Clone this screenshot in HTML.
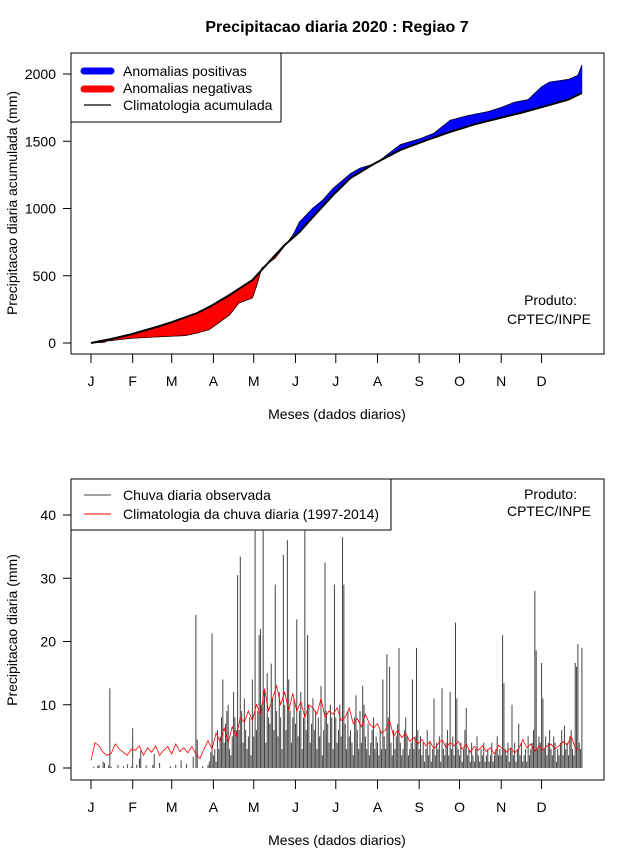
<!DOCTYPE html>
<html><head><meta charset="utf-8"><style>
html,body{margin:0;padding:0;background:#fff;}
svg{display:block;font-family:"Liberation Sans",sans-serif;}
</style></head><body>
<svg id="c" width="640" height="850" viewBox="0 0 640 850" xmlns="http://www.w3.org/2000/svg">
<text x="337" y="32" text-anchor="middle" font-size="16" font-weight="bold">Precipitacao diaria 2020 : Regiao 7</text>
<g id="top"></g>
<g id="bot"></g>
</svg>
<script>
// ---- data ----
const monthLabels = ["J","F","M","A","M","J","J","A","S","O","N","D"];
const monthStartDays = [0,31,60,91,121,152,182,213,244,274,305,335];
const topYTicks = [0,500,1000,1500,2000];
const botYTicks = [0,10,20,30,40];
const climCumDays = [0,15,30,49,60,79,90,103,120,137,144,155,165,180,193,210,230,250,267,285,304,320,341,355,365];
const climCumVals = [0,30,65,120,155,223,280,357,468,654,729,825,937,1100,1227,1330,1435,1510,1569,1625,1673,1712,1770,1810,1859];
const obsCumDays = [0,10,12,30,49,70,79,88,95,103,110,120,123,127,137,145,150,155,165,172,180,193,200,210,215,230,245,255,267,280,295,304,315,325,335,341,355,362,365];
const obsCumVals = [0,5,15,35,45,55,74,100,150,208,297,335,420,557,632,735,800,900,1004,1060,1150,1260,1300,1330,1360,1475,1520,1560,1656,1690,1720,1748,1790,1810,1905,1940,1960,1990,2067];
const obsDaily = [
0,0,0.2,0,0,0.3,0.5,0,0,1,0.8,0,0,0.4,12.6,0.2,0,0,0,0,0.5,0,0,0,0.3,0,0,0.6,0,0,0.2,
6.3,0,0,0.5,0,1.5,2.8,0,0,0,0.4,0,0,0,0,0.5,2.2,0,0,0,0.8,0,0,0,0,0,0,0,0.3,
0,0,0,0.5,0,0,0,1.2,0,0,0,0.6,0,0,0,0,1.8,0,24.2,4.5,0,0,0,0.3,0,0,0,0.5,1.0,2.5,21.3,
2,3,1,6,3,5,8,14,4,7,9,10,3,2,5,12,8,6,30.5,6,33.4,9,4,11,6,3,5,8,2,14,
5,37.5,6,9,21,22,10,43,12,4,15,8,7,16.5,11,6,29,9,5,12,8,3,33.7,10,6,36,14,9,4,8,11,
7,23.5,5,9,12,3,8,40.5,6,21,10,4,7,11,6,9,3,8,5,13,2,6,32.5,9,7,4,10,8,3,29,
8,4,6,10,5,36.5,29,7,3,9,5,6,4,2,8,11.5,6,3,9,4,13,10,5,3,7,2,4,6,8,3,5,
4,2,6,3,14,5,3,18,8,16,4,2,6,3,5,7,19,4,2,3,6,8,5,2,3,4,14,3,5,19,6,
3,5,2,4,1,3,6,2,4,1,3,11,2,4,3,5,1,12.6,3,2,4,6,2,12,3,5,2,23,11,3,
2,4,1,3,6,9.5,2,3,1,4,2,1,3,5,2,1,3,2,4,1,2,3,1,2,4,1,2,3,5,2,3,
2,21,13.4,3,2,4,1,3,10,2,4,1,3,7,2,4,1,2,3,1,5,2,3,4,6,28,18.6,3,5,4,
16.6,11,3,5,2,4,6,3,2,5,4,1,3,2,4,6,2,6.7,3,4,2,5,6,3,2,16.6,16,19.6,4,3,19];
const climDailyStep = 3;
const climDaily = [
1.2,4,3.5,2.5,2,2.3,3.8,3,2.5,2,3,
2.8,3.5,2,3.2,2.5,3.5,2,2.8,3.4,
2.2,3.8,2.6,3.2,2.4,3.4,2.2,1.5,3,4.3,3,
5.5,4.2,6.3,4,6.5,5,8,7.2,9,7.5,
10,8.5,12.5,9,11,13,10,12,9,11.8,
9,10.5,8,10,9.5,8.5,11,8,9,8.5,
9.5,7.5,8,9.5,7,7.8,6.5,8.5,7,6.3,
7,5.5,6,7.5,5,6,4.8,5.5,4.2,4.8,3.8,
4.5,3.5,4.2,3,3.8,4.5,3.2,4,3.5,4.2,
3,3.8,2.5,3.4,2.8,3.5,2.6,3.2,2.2,3.6,
3,2.5,3.2,2.4,3,4.5,3.2,3.8,2.6,3.5,
2.8,3.5,3.8,3,3.5,4.2,3.6,5,3.2,2.8];

// ---- helpers ----
const NS="http://www.w3.org/2000/svg";
function mk(parent,tag,attrs,text){const e=document.createElementNS(NS,tag);for(const k in attrs)e.setAttribute(k,attrs[k]);if(text!==undefined)e.textContent=text;parent.appendChild(e);return e;}
const xDay = d => 91 + d*1.345;
const yTop = v => 343 - v*0.1345;
const yBot = v => 768 - v*6.325;
function interp(days,vals,d){for(let i=1;i<days.length;i++){if(d<=days[i]){const t=(d-days[i-1])/(days[i]-days[i-1]);return vals[i-1]+t*(vals[i]-vals[i-1]);}}return vals[vals.length-1];}

// ---- top panel ----
const T=document.getElementById('top');
const allDays=[...new Set(climCumDays.concat(obsCumDays))].sort((a,b)=>a-b);
for(let i=1;i<allDays.length;i++){
  const d0=allDays[i-1],d1=allDays[i];
  const o0=interp(obsCumDays,obsCumVals,d0),o1=interp(obsCumDays,obsCumVals,d1);
  const c0=interp(climCumDays,climCumVals,d0),c1=interp(climCumDays,climCumVals,d1);
  const pos=(o0+o1)/2>=(c0+c1)/2;
  const p=mk(T,'polygon',{points:`${xDay(d0)},${yTop(o0)} ${xDay(d1)},${yTop(o1)} ${xDay(d1)},${yTop(c1)} ${xDay(d0)},${yTop(c0)}`,fill:pos?'#0000ff':'#ff0000',stroke:pos?'#0000ff':'#ff0000','stroke-width':'0.6'});
  
  
}
const obsLine=mk(T,'polyline',{points:obsCumDays.map((d,i)=>xDay(d)+','+yTop(obsCumVals[i])).join(' '),fill:'none',stroke:'#000','stroke-width':'0.7'});


const climLine=mk(T,'polyline',{points:climCumDays.map((d,i)=>xDay(d)+','+yTop(climCumVals[i])).join(' '),fill:'none',stroke:'#000','stroke-width':'2'});



function frame(G,top,bottom,ticks,yf,ytitle,ytitleY){
  const b=mk(G,'rect',{x:71,y:top,width:533,height:bottom-top,fill:'none',stroke:'#000','stroke-width':'1'});
  
  
  ticks.forEach(v=>{
    const y=yf(v);
    mk(G,'line',{x1:63,x2:71,y1:y,y2:y,stroke:'#000'});
    const t=mk(G,'text',{x:56,y:y+5,'text-anchor':'end','font-size':'14'},String(v));
    
    
  });
  monthStartDays.forEach((d,i)=>{
    const x=xDay(d);
    mk(G,'line',{x1:x,x2:x,y1:bottom,y2:bottom+9,stroke:'#000'});
    const t=mk(G,'text',{x:x,y:bottom+32,'text-anchor':'middle','font-size':'14'},monthLabels[i]);
    
    
  });
  const xt=mk(G,'text',{x:337,y:bottom+65,'text-anchor':'middle','font-size':'14'},'Meses (dados diarios)');
  
  
  const yt=mk(G,'text',{x:0,y:0,'text-anchor':'middle','font-size':'14',transform:`translate(17,${ytitleY}) rotate(-90)`},ytitle);
  
  
}
frame(T,53,354,topYTicks,yTop,'Precipitacao diaria acumulada (mm)',203);

const L1=mk(T,'g',{});


mk(L1,'rect',{x:71,y:53,width:210,height:69,fill:'#fff',stroke:'#000'});
mk(L1,'line',{x1:84,x2:111,y1:71,y2:71,stroke:'#0000ff','stroke-width':'7','stroke-linecap':'round'});
mk(L1,'line',{x1:84,x2:111,y1:89,y2:89,stroke:'#ff0000','stroke-width':'7','stroke-linecap':'round'});
mk(L1,'line',{x1:84,x2:111,y1:105,y2:105,stroke:'#000','stroke-width':'1.2'});
mk(L1,'text',{x:123,y:76,'font-size':'14'},'Anomalias positivas');
mk(L1,'text',{x:123,y:93,'font-size':'14'},'Anomalias negativas');
mk(L1,'text',{x:123,y:110,'font-size':'14'},'Climatologia acumulada');
const pr1=mk(T,'text',{x:577,y:305,'text-anchor':'end','font-size':'14'},'Produto:');


const pr2=mk(T,'text',{x:591,y:324,'text-anchor':'end','font-size':'14'},'CPTEC/INPE');



// ---- bottom panel ----
const B=document.getElementById('bot');
obsDaily.forEach((v,d)=>{
  if(v<=0) return;
  const l=mk(B,'line',{x1:xDay(d),x2:xDay(d),y1:yBot(0),y2:Math.max(yBot(v),479),stroke:'#444','stroke-width':'1'});
  
  
});
const cl=mk(B,'polyline',{points:climDaily.map((v,i)=>xDay(i*climDailyStep)+','+yBot(v)).join(' '),fill:'none',stroke:'#ff0000','stroke-width':'0.8'});


frame(B,479,780,botYTicks,yBot,'Precipitacao diaria (mm)',630);

const L2=mk(B,'g',{});


mk(L2,'rect',{x:71,y:479,width:320,height:51,fill:'#fff',stroke:'#000'});
mk(L2,'line',{x1:84,x2:111,y1:495,y2:495,stroke:'#444','stroke-width':'1'});
mk(L2,'line',{x1:84,x2:111,y1:514,y2:514,stroke:'#ff0000','stroke-width':'1'});
mk(L2,'text',{x:123,y:500,'font-size':'14'},'Chuva diaria observada');
mk(L2,'text',{x:123,y:519,'font-size':'14'},'Climatologia da chuva diaria (1997-2014)');
const pr3=mk(B,'text',{x:577,y:499,'text-anchor':'end','font-size':'14'},'Produto:');


const pr4=mk(B,'text',{x:591,y:516,'text-anchor':'end','font-size':'14'},'CPTEC/INPE');


</script>
</body></html>
